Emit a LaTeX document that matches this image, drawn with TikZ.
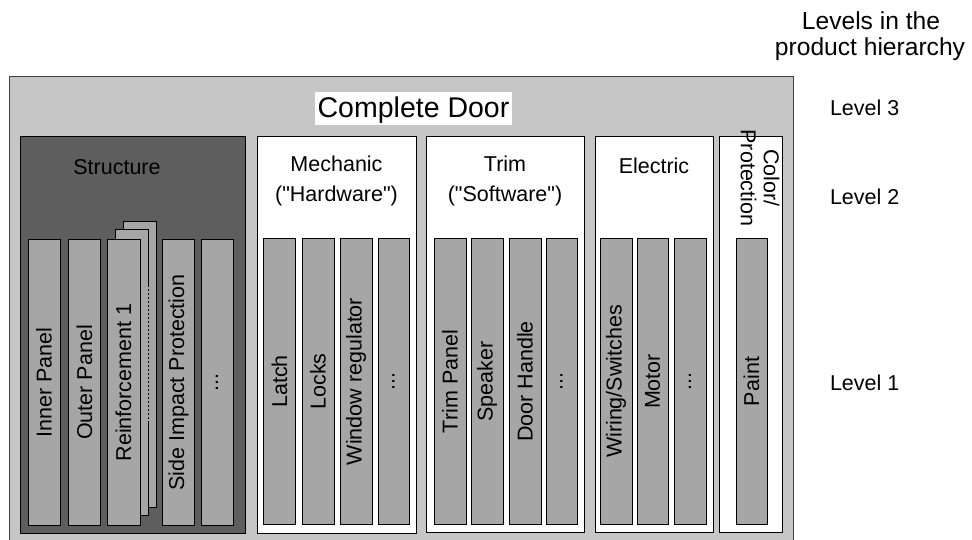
\documentclass[tikz,border=0pt]{standalone}
\usepackage{fontspec}
\setmainfont{Liberation Sans}[Ligatures=TeXOff]
\definecolor{outerfill}{HTML}{C6C6C6}
\definecolor{structfill}{HTML}{5E5E5E}
\definecolor{barfill}{HTML}{A6A6A6}
\begin{document}
\begin{tikzpicture}[x=1pt,y=-1pt,
  every node/.style={font=\fontsize{21.5}{26}\selectfont, inner sep=0pt, outer sep=0pt},
  groupbox/.style={draw=black, line width=0.9pt, fill=white, anchor=north west},
  barbox/.style={draw=black, line width=0.9pt, fill=barfill, rotate=90, minimum width=286pt, minimum height=32pt},
  grouplabel/.style={align=center, font=\fontsize{21.5}{30}\selectfont},
  levellabel/.style={anchor=west},
  headlabel/.style={anchor=base, font=\fontsize{24.6}{26}\selectfont}
]
\useasboundingbox (0,0) rectangle (972,540);
% outer box
\node[draw=black!75, line width=1pt, fill=outerfill, anchor=north west, minimum width=784pt, minimum height=470pt] (door) at (9,77) {};
\node[fill=white, inner xsep=3pt, text height=25pt, text depth=8pt, font=\fontsize{28.5}{34}\selectfont] (doorlabel) at (413.5,109) {Complete Door};

% group boxes
\node[groupbox, fill=structfill, minimum width=225pt, minimum height=397pt] (structure) at (20,136) {};
\node[groupbox, minimum width=159pt, minimum height=397pt] (mechanic) at (257,136) {};
\node[groupbox, minimum width=158pt, minimum height=396pt] (trim) at (426,136) {};
\node[groupbox, minimum width=118pt, minimum height=396pt] (electric) at (595,136) {};
\node[groupbox, minimum width=63pt, minimum height=396pt] (color) at (719,136) {};

\node[grouplabel] (structurelabel) at (117,167) {Structure};
\node[grouplabel] (mechaniclabel) at (336.5,181) {Mechanic\\("Hardware")};
\node[grouplabel] (trimlabel) at (505,181) {Trim\\("Software")};
\node[grouplabel] (electriclabel) at (654,166) {Electric};
\node[align=center, rotate=-90, font=\fontsize{21.5}{23}\selectfont] (colorlabel) at (760,178) {Color/\\Protection};

% structure bars
\node[barbox, minimum height=33pt] (reinf3) at (140,364) {};
\node[barbox, minimum height=33pt] (reinf2) at (131.5,372.5) {};
\fill[barfill] (146.5,285) rectangle (149.5,423);
\draw[black, line width=0.9pt, dash pattern=on 2pt off 2pt] (reinf2.south west |- 0,285) -- (reinf2.south west |- 0,423);
\node[barbox] (inner) at (44,382.5) {Inner Panel};
\node[barbox] (outer) at (84.5,382.5) {Outer Panel};
\node[barbox, minimum height=33pt] (reinf1) at (123.5,382.5) {Reinforcement 1};
\node[barbox] (side) at (178.5,382.5) {Side Impact Protection};
\node[barbox] (sdots) at (217,382.5) {...};

% mechanic bars
\node[barbox] (latch) at (279.5,381.5) {Latch};
\node[barbox] (locks) at (318,381.5) {Locks};
\node[barbox] (window) at (356,381.5) {Window regulator};
\node[barbox, minimum height=31pt] (mdots) at (393.5,381.5) {...};

% trim bars
\node[barbox] (trimpanel) at (450,381.5) {Trim Panel};
\node[barbox] (speaker) at (487,381.5) {Speaker};
\node[barbox] (handle) at (525,381.5) {Door Handle};
\node[barbox, minimum height=31pt] (tdots) at (561.5,381.5) {...};

% electric bars
\node[barbox] (wiring) at (616,381.5) {Wiring/Switches};
\node[barbox, minimum height=31pt] (motor) at (652.5,381.5) {Motor};
\node[barbox] (edots) at (690,381.5) {...};

% color bar
\node[barbox, minimum height=31pt] (paint) at (751.5,381.5) {Paint};

% level labels
\node[headlabel] (levelshead1) at (871,30) {Levels in the};
\node[headlabel] (levelshead2) at (870,55.5) {product hierarchy};
\node[levellabel] (level3) at (830,108) {Level 3};
\node[levellabel] (level2) at (830,197) {Level 2};
\node[levellabel] (level1) at (830,383) {Level 1};
\end{tikzpicture}
\end{document}
